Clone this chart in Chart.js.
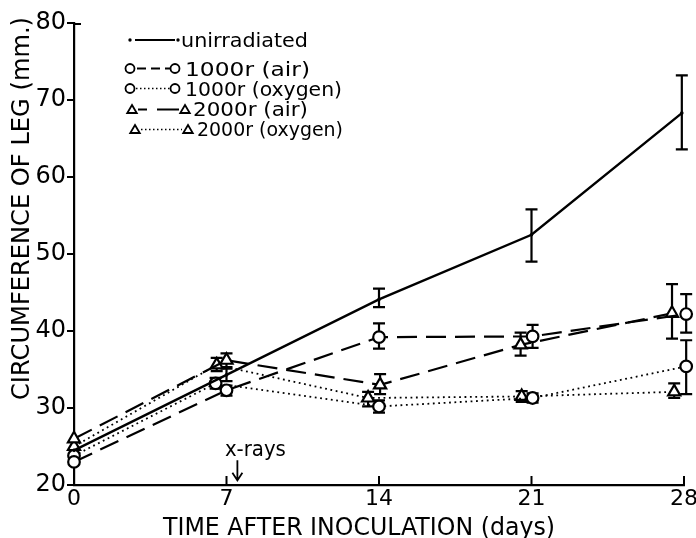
<!DOCTYPE html>
<html><head><meta charset="utf-8">
<script src="https://cdn.jsdelivr.net/npm/chart.js@4"></script>
<style>html,body{margin:0;padding:0;background:#fff}canvas{display:block}</style>
</head><body>
<canvas id="c" width="696" height="538"></canvas>
<script>
const seriesNames = ['unirradiated', '1000r (air)', '1000r (oxygen)', '2000r (air)', '2000r (oxygen)'];
const xTickLabels = [0, 7, 14, 21, 28];
const yTickLabels = [20, 30, 40, 50, 60, 70, 80];
const xTitle = 'TIME AFTER INOCULATION (days)';
const yTitle = 'CIRCUMFERENCE OF LEG (mm.)';
const xrayLabel = 'x-rays';
const xrayDay = 7.5;

const unirrDays = [0, 7, 14, 21, 27.9];
const unirrMean = [24.5, 34.3, 44.1, 52.5, 68.3];
const unirrLow  = [null, 33.5, 43.1, 49.0, 63.6];
const unirrHigh = [null, 35.1, 45.5, 55.8, 73.2];

const air1000Days = [0, 7, 14, 21.05, 28.1];
const air1000Mean = [23.0, 32.3, 39.2, 39.3, 42.2];
const air1000Low  = [null, 31.6, 37.7, 37.8, 39.8];
const air1000High = [null, 32.9, 41.0, 40.8, 44.8];

const oxy1000Days = [0, 6.5, 14, 21.05, 28.1];
const oxy1000Mean = [23.8, 33.2, 30.2, 31.3, 35.4];
const oxy1000Low  = [null, 32.5, 29.4, 30.7, 31.8];
const oxy1000High = [null, 33.9, 31.0, 31.9, 38.8];

const air2000Days = [0, 7, 14.05, 20.5, 27.45];
const air2000Mean = [26.0, 36.2, 33.0, 38.2, 42.3];
const air2000Low  = [null, 35.3, 31.8, 36.8, 39.0];
const air2000High = [null, 37.1, 34.4, 39.8, 46.1];

const oxy2000Days = [0, 6.55, 13.5, 20.55, 27.55];
const oxy2000Mean = [25.0, 35.6, 31.3, 31.5, 32.1];
const oxy2000Low  = [null, 34.8, 30.2, 30.8, 31.3];
const oxy2000High = [null, 36.5, 32.1, 32.2, 33.2];

const FONT = 'DejaVu Sans';
const pts = (xs, ys) => xs.map((x, i) => ({x: x, y: ys[i]}));

const DASH = [20, 9];
const DOT = [1.8, 3.6];

const datasets = [
  {label: seriesNames[0], data: pts(unirrDays, unirrMean), low: unirrLow, high: unirrHigh,
   borderColor: '#000', borderWidth: 2.4, pointStyle: 'circle', pointRadius: 1.8,
   pointBackgroundColor: '#000', pointBorderWidth: 0},
  {label: seriesNames[1], data: pts(air1000Days, air1000Mean), low: air1000Low, high: air1000High,
   borderColor: '#000', borderWidth: 2.2, borderDash: DASH, pointStyle: 'circle', pointRadius: 5.8,
   pointBackgroundColor: '#fff', pointBorderColor: '#000', pointBorderWidth: 2.2},
  {label: seriesNames[2], data: pts(oxy1000Days, oxy1000Mean), low: oxy1000Low, high: oxy1000High,
   borderColor: '#000', borderWidth: 1.8, borderDash: DOT, pointStyle: 'circle', pointRadius: 5.8,
   pointBackgroundColor: '#fff', pointBorderColor: '#000', pointBorderWidth: 2.2},
  {label: seriesNames[3], data: pts(air2000Days, air2000Mean), low: air2000Low, high: air2000High,
   borderColor: '#000', borderWidth: 2.2, borderDash: DASH, pointStyle: 'triangle', pointRadius: 7,
   pointBackgroundColor: '#fff', pointBorderColor: '#000', pointBorderWidth: 2.2},
  {label: seriesNames[4], data: pts(oxy2000Days, oxy2000Mean), low: oxy2000Low, high: oxy2000High,
   borderColor: '#000', borderWidth: 1.8, borderDash: DOT, pointStyle: 'triangle', pointRadius: 7,
   pointBackgroundColor: '#fff', pointBorderColor: '#000', pointBorderWidth: 2.2}
].map(d => Object.assign({showLine: true, clip: false, fill: false, tension: 0}, d));

function fitText(ctx, text, cx, baseY, targetW, font) {
  ctx.font = font;
  const w = ctx.measureText(text).width;
  ctx.save();
  ctx.translate(cx, baseY);
  ctx.scale(targetW / w, 1);
  ctx.textAlign = 'center';
  ctx.fillText(text, 0, 0);
  ctx.restore();
}
function fitTextLeft(ctx, text, x, baseY, targetW, font) {
  ctx.font = font;
  const w = ctx.measureText(text).width;
  ctx.save();
  ctx.translate(x, baseY);
  ctx.scale(targetW / w, 1);
  ctx.textAlign = 'left';
  ctx.fillText(text, 0, 0);
  ctx.restore();
}
function triangle(ctx, x, y, r) {
  ctx.beginPath();
  ctx.moveTo(x, y - r);
  ctx.lineTo(x + r * 0.95, y + r * 0.6);
  ctx.lineTo(x - r * 0.95, y + r * 0.6);
  ctx.closePath();
  ctx.fill();
  ctx.stroke();
}
function circle(ctx, x, y, r) {
  ctx.beginPath();
  ctx.arc(x, y, r, 0, Math.PI * 2);
  ctx.fill();
  ctx.stroke();
}

const errorBars = {
  id: 'errorBars',
  beforeDatasetsDraw(chart) {
    const ctx = chart.ctx, xs = chart.scales.x, ys = chart.scales.y;
    ctx.save();
    ctx.strokeStyle = '#000';
    ctx.lineWidth = 2.2;
    ctx.setLineDash([]);
    chart.data.datasets.forEach(ds => {
      ds.data.forEach((p, i) => {
        if (ds.low[i] == null) return;
        const x = xs.getPixelForValue(p.x);
        const yl = ys.getPixelForValue(ds.low[i]);
        const yh = ys.getPixelForValue(ds.high[i]);
        ctx.beginPath();
        ctx.moveTo(x, yl); ctx.lineTo(x, yh);
        ctx.moveTo(x - 6, yl); ctx.lineTo(x + 6, yl);
        ctx.moveTo(x - 6, yh); ctx.lineTo(x + 6, yh);
        ctx.stroke();
      });
    });
    ctx.restore();
  }
};

const decorations = {
  id: 'decorations',
  afterDraw(chart) {
    const ctx = chart.ctx, xs = chart.scales.x, ys = chart.scales.y;
    const area = chart.chartArea;
    ctx.save();
    ctx.fillStyle = '#000';
    ctx.strokeStyle = '#000';
    // inward x ticks
    ctx.lineWidth = 2;
    xTickLabels.forEach(v => {
      const x = xs.getPixelForValue(v);
      ctx.beginPath();
      ctx.moveTo(x, area.bottom);
      ctx.lineTo(x, area.bottom - 9);
      ctx.stroke();
    });
    // top tick pointing right
    ctx.beginPath();
    ctx.moveTo(area.left, area.top + 1);
    ctx.lineTo(area.left + 7, area.top + 1);
    ctx.stroke();
    // axis titles
    fitText(ctx, xTitle, 359, 535, 392, '24px "' + FONT + '"');
    ctx.save();
    ctx.translate(29, 208.5);
    ctx.rotate(-Math.PI / 2);
    fitText(ctx, yTitle, 0, 0, 383, '24px "' + FONT + '"');
    ctx.restore();
    // x-rays annotation
    const ax = xs.getPixelForValue(xrayDay);
    fitText(ctx, xrayLabel, ax + 18, ys.getPixelForValue(23.8), 61, '21px "' + FONT + '"');
    ctx.lineWidth = 1.8;
    ctx.beginPath();
    ctx.moveTo(ax, ys.getPixelForValue(23.2));
    ctx.lineTo(ax, ys.getPixelForValue(20.6));
    ctx.moveTo(ax - 5, ys.getPixelForValue(21.6));
    ctx.lineTo(ax, ys.getPixelForValue(20.6));
    ctx.lineTo(ax + 5, ys.getPixelForValue(21.6));
    ctx.stroke();

    // legend
    const lf = '20px "' + FONT + '"';
    // row 1
    ctx.fillStyle = '#000';
    ctx.beginPath(); ctx.arc(130, 40, 1.7, 0, 7); ctx.fill();
    ctx.beginPath(); ctx.arc(178, 40, 1.7, 0, 7); ctx.fill();
    ctx.lineWidth = 2.2;
    ctx.beginPath(); ctx.moveTo(135, 40); ctx.lineTo(175, 40); ctx.stroke();
    fitTextLeft(ctx, seriesNames[0], 181, 47, 127, lf);
    // row 2
    ctx.lineWidth = 1.8;
    ctx.setLineDash([9, 5]);
    ctx.beginPath(); ctx.moveTo(137, 68.5); ctx.lineTo(170, 68.5); ctx.stroke();
    ctx.setLineDash([]);
    ctx.fillStyle = '#fff';
    circle(ctx, 130, 68.5, 4.5); circle(ctx, 175, 68.5, 4.5);
    ctx.fillStyle = '#000';
    fitTextLeft(ctx, seriesNames[1], 185, 75.5, 125, lf);
    // row 3
    ctx.setLineDash([1.5, 2.5]);
    ctx.lineWidth = 1.3;
    ctx.beginPath(); ctx.moveTo(136, 88.5); ctx.lineTo(170, 88.5); ctx.stroke();
    ctx.setLineDash([]);
    ctx.lineWidth = 1.8;
    ctx.fillStyle = '#fff';
    circle(ctx, 130, 88.5, 4.5); circle(ctx, 175, 88.5, 4.5);
    ctx.fillStyle = '#000';
    fitTextLeft(ctx, seriesNames[2], 185, 95.5, 157, lf);
    // row 4
    ctx.beginPath(); ctx.moveTo(138, 109.5); ctx.lineTo(147, 109.5);
    ctx.moveTo(157, 109.5); ctx.lineTo(179, 109.5); ctx.stroke();
    ctx.fillStyle = '#fff';
    triangle(ctx, 132, 110, 5); triangle(ctx, 185, 110, 5);
    ctx.fillStyle = '#000';
    fitTextLeft(ctx, seriesNames[3], 193, 116, 115, lf);
    // row 5
    ctx.setLineDash([1.5, 2.5]);
    ctx.lineWidth = 1.3;
    ctx.beginPath(); ctx.moveTo(141, 129.5); ctx.lineTo(182, 129.5); ctx.stroke();
    ctx.setLineDash([]);
    ctx.lineWidth = 1.8;
    ctx.fillStyle = '#fff';
    triangle(ctx, 135, 130, 5); triangle(ctx, 188, 130, 5);
    ctx.fillStyle = '#000';
    fitTextLeft(ctx, seriesNames[4], 197, 136, 146, lf);
    ctx.restore();
  }
};

new Chart(document.getElementById('c'), {
  type: 'scatter',
  data: {datasets: datasets},
  options: {
    responsive: false,
    animation: false,
    events: [],
    layout: {padding: {top: 23, right: 12, left: 0, bottom: 0}},
    plugins: {legend: {display: false}, tooltip: {enabled: false}, title: {display: false}},
    scales: {
      x: {
        type: 'linear', min: 0, max: 28,
        afterBuildTicks: s => { s.ticks = xTickLabels.map(v => ({value: v})); },
        afterFit: s => { s.height = 53; s.paddingLeft = 0; s.paddingRight = 0; },
        ticks: {color: '#000', font: {family: FONT, size: 22}, padding: 1, maxRotation: 0, autoSkip: false},
        grid: {display: true, drawOnChartArea: false, drawTicks: false},
        border: {display: true, color: '#000', width: 2.2}
      },
      y: {
        type: 'linear', min: 20, max: 80,
        afterBuildTicks: s => { s.ticks = yTickLabels.map(v => ({value: v})); },
        afterFit: s => { s.width = 74; s.paddingTop = 0; s.paddingBottom = 0; },
        ticks: {color: '#000', font: {family: FONT, size: 24}, padding: 1, autoSkip: false},
        grid: {display: true, drawOnChartArea: false, drawTicks: true, tickLength: 7, color: '#000', lineWidth: 2},
        border: {display: true, color: '#000', width: 2.2}
      }
    }
  },
  plugins: [errorBars, decorations]
});
</script>
</body></html>
